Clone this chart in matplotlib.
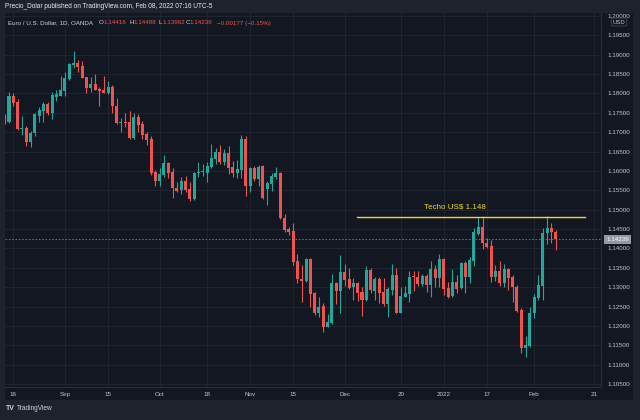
import matplotlib
matplotlib.use('Agg')
import matplotlib.pyplot as plt
import numpy as np
from matplotlib.patches import Rectangle

# EUR/USD diario (OANDA), índice 0 = 16 ago 2021
bar_index = list(range(-2, 127))
opens = [1.1738, 1.1727, 1.1794, 1.1778, 1.1707, 1.1711, 1.1674, 1.1697, 1.1741, 1.1754,
         1.1772, 1.1750, 1.1791, 1.1794, 1.1806, 1.1837, 1.1873, 1.1879, 1.1870, 1.1841,
         1.1813, 1.1824, 1.1812, 1.1809, 1.1800, 1.1815, 1.1768, 1.1723, 1.1727, 1.1725,
         1.1684, 1.1740, 1.1721, 1.1695, 1.1682, 1.1596, 1.1575, 1.1589, 1.1620, 1.1598,
         1.1557, 1.1551, 1.1574, 1.1553, 1.1527, 1.1595, 1.1597, 1.1595, 1.1609, 1.1630,
         1.1649, 1.1622, 1.1645, 1.1609, 1.1594, 1.1602, 1.1682, 1.1561, 1.1607, 1.1578,
         1.1613, 1.1553, 1.1566, 1.1585, 1.1595, 1.1479, 1.1450, 1.1445, 1.1368, 1.1321,
         1.1316, 1.1373, 1.1285, 1.1233, 1.1252, 1.1198, 1.1207, 1.1310, 1.1291, 1.1340,
         1.1321, 1.1300, 1.1312, 1.1287, 1.1267, 1.1345, 1.1290, 1.1321, 1.1289, 1.1256,
         1.1293, 1.1332, 1.1235, 1.1276, 1.1283, 1.1330, 1.1327, 1.1308, 1.1329, 1.1306,
         1.1347, 1.1323, 1.1372, 1.1297, 1.1278, 1.1314, 1.1297, 1.1363, 1.1326, 1.1368,
         1.1437, 1.1455, 1.1415, 1.1406, 1.1326, 1.1343, 1.1310, 1.1346, 1.1326, 1.1302,
         1.1242, 1.1144, 1.1149, 1.1233, 1.1272, 1.1303, 1.1439, 1.1452, 1.14416]
highs = [1.1746, 1.1803, 1.1800, 1.1785, 1.1741, 1.1716, 1.1704, 1.1750, 1.1765, 1.1778,
         1.1778, 1.1803, 1.1809, 1.1845, 1.1856, 1.1877, 1.1909, 1.1886, 1.1883, 1.1843,
         1.1841, 1.1850, 1.1817, 1.1845, 1.1832, 1.1821, 1.1789, 1.1736, 1.1748, 1.1754,
         1.1748, 1.1747, 1.1729, 1.1701, 1.1690, 1.1602, 1.1607, 1.1641, 1.1624, 1.1607,
         1.1572, 1.1585, 1.1587, 1.1572, 1.1598, 1.1624, 1.1618, 1.1624, 1.1669, 1.1658,
         1.1667, 1.1656, 1.1664, 1.1626, 1.1628, 1.1693, 1.1690, 1.1609, 1.1613, 1.1615,
         1.1615, 1.1574, 1.1595, 1.1609, 1.1597, 1.1488, 1.1456, 1.1465, 1.1386, 1.1357,
         1.1375, 1.1375, 1.1289, 1.1276, 1.1259, 1.1231, 1.1333, 1.1314, 1.1383, 1.1360,
         1.1349, 1.1323, 1.1314, 1.1300, 1.1355, 1.1349, 1.1326, 1.1327, 1.1324, 1.1302,
         1.1360, 1.1350, 1.1302, 1.1303, 1.1343, 1.1342, 1.1343, 1.1334, 1.1334, 1.1368,
         1.1357, 1.1386, 1.1375, 1.1314, 1.1346, 1.1332, 1.1366, 1.1368, 1.1379, 1.1452,
         1.1482, 1.1484, 1.1426, 1.1422, 1.1357, 1.1369, 1.1359, 1.1349, 1.1332, 1.1306,
         1.1246, 1.1174, 1.1248, 1.1283, 1.1332, 1.1452, 1.1485, 1.1465, 1.14488]
lows = [1.1722, 1.1724, 1.1767, 1.1705, 1.1693, 1.1664, 1.1662, 1.1691, 1.1725, 1.1727,
        1.1745, 1.1734, 1.1780, 1.1793, 1.1793, 1.1834, 1.1864, 1.1856, 1.1839, 1.1802,
        1.1804, 1.1809, 1.1768, 1.1800, 1.1798, 1.1750, 1.1721, 1.1701, 1.1714, 1.1681,
        1.1682, 1.1701, 1.1682, 1.1667, 1.1589, 1.1562, 1.1561, 1.1585, 1.1581, 1.1529,
        1.1546, 1.1540, 1.1546, 1.1522, 1.1525, 1.1583, 1.1587, 1.1572, 1.1607, 1.1617,
        1.1618, 1.1615, 1.1592, 1.1583, 1.1582, 1.1581, 1.1535, 1.1546, 1.1575, 1.1561,
        1.1527, 1.1512, 1.1549, 1.1578, 1.1476, 1.1443, 1.1435, 1.1357, 1.1310, 1.1263,
        1.1314, 1.1250, 1.1229, 1.1224, 1.1186, 1.1197, 1.1205, 1.1257, 1.1235, 1.1303,
        1.1295, 1.1267, 1.1265, 1.1226, 1.1265, 1.1285, 1.1267, 1.1260, 1.1252, 1.1223,
        1.1280, 1.1233, 1.1233, 1.1274, 1.1263, 1.1291, 1.1303, 1.1303, 1.1289, 1.1274,
        1.1300, 1.1300, 1.1280, 1.1272, 1.1274, 1.1286, 1.1295, 1.1286, 1.1312, 1.1356,
        1.1435, 1.1398, 1.1401, 1.1314, 1.1317, 1.1304, 1.1302, 1.1293, 1.1263, 1.1237,
        1.1131, 1.1121, 1.1147, 1.1220, 1.1267, 1.1267, 1.1412, 1.1413, 1.13962]
closes = [1.1727, 1.1794, 1.1774, 1.1707, 1.1711, 1.1674, 1.1698, 1.1746, 1.1757, 1.1772,
          1.1748, 1.1796, 1.1797, 1.1809, 1.1839, 1.1876, 1.1879, 1.1869, 1.1840, 1.1813,
          1.1823, 1.1809, 1.1807, 1.1800, 1.1815, 1.1767, 1.1723, 1.1727, 1.1723, 1.1684,
          1.1740, 1.1718, 1.1693, 1.1680, 1.1595, 1.1575, 1.1592, 1.1620, 1.1595, 1.1555,
          1.1549, 1.1574, 1.1551, 1.1527, 1.1595, 1.1598, 1.1600, 1.1613, 1.1632, 1.1649,
          1.1624, 1.1645, 1.1607, 1.1594, 1.1604, 1.1682, 1.1561, 1.1607, 1.1578, 1.1611,
          1.1529, 1.1568, 1.1587, 1.1595, 1.1479, 1.1448, 1.1443, 1.1366, 1.1321, 1.1317,
          1.1373, 1.1282, 1.1233, 1.1250, 1.1198, 1.1211, 1.1310, 1.1291, 1.1340, 1.1319,
          1.1299, 1.1312, 1.1286, 1.1267, 1.1345, 1.1293, 1.1321, 1.1286, 1.1256, 1.1296,
          1.1332, 1.1235, 1.1278, 1.1285, 1.1327, 1.1326, 1.1308, 1.1329, 1.1306, 1.1347,
          1.1323, 1.1372, 1.1295, 1.1274, 1.1314, 1.1295, 1.1363, 1.1326, 1.1370, 1.1442,
          1.1455, 1.1413, 1.1405, 1.1326, 1.1343, 1.1310, 1.1346, 1.1323, 1.1300, 1.1240,
          1.1144, 1.1151, 1.1235, 1.1276, 1.1306, 1.1441, 1.1452, 1.1442, 1.14239]

date_ticks = [0, 12, 22, 34, 45, 55, 65, 77, 90, 100, 110, 121, 135]
date_labels = ['16', 'Sep', '15', 'Oct', '18', 'Nov', '15', 'Dec', '20', '2022', '17', 'Feb', '21']
price_ticks = [1.105, 1.11, 1.115, 1.12, 1.125, 1.13, 1.135, 1.14, 1.145,
               1.15, 1.155, 1.16, 1.165, 1.17, 1.175, 1.18, 1.185, 1.19, 1.195, 1.20]

techo = 1.148
techo_start, techo_end = 79.8, 132.8
last_price = closes[-1]

BG = '#131722'
FRAME = '#1e222d'
GREEN = '#26a69a'
RED = '#ef5350'
TXT = '#c3c6ce'
GRID = '#1f2431'
BORDER = '#2a2e39'
YELLOW = '#ecd82c'
FS = 4.5

plt.rcParams['font.family'] = ['Liberation Sans', 'DejaVu Sans']

W, H = 640, 420
fig = plt.figure(figsize=(6.4, 4.2), dpi=100)
fig.patch.set_facecolor(FRAME)

def px(x, y):
    return x / W, 1 - y / H

# fondo del gráfico (panel + ejes de precio y tiempo)
fig.patches.append(Rectangle(px(5, 400), 628 / W, 387 / H, transform=fig.transFigure,
                             facecolor=BG, edgecolor='none', zorder=-5))

ax = fig.add_axes([5 / W, (H - 387) / H, 596 / W, 374 / H])
ax.set_facecolor(BG)
ax.set_xlim(-1.93, 136.52)
ax.set_ylim(1.10430, 1.20070)

idx = np.array(bar_index)
o = np.array(opens)
h = np.array(highs)
l = np.array(lows)
c = np.array(closes)
colors = np.where(c >= o, GREEN, RED)

ax.vlines(idx, l, h, colors=colors, linewidth=0.8, zorder=3)
body_low = np.minimum(o, c)
body_h = np.maximum(np.abs(c - o), 0.00012)
ax.bar(idx, body_h, bottom=body_low, width=0.7, color=colors, linewidth=0, zorder=4)

# línea del último precio
ax.axhline(last_price, color='#787b86', linewidth=0.6, linestyle=(0, (2, 2)), zorder=2)

# techo
ax.plot([techo_start, techo_end], [techo, techo], color=YELLOW, linewidth=1.0, zorder=5)
ax.text(102.6, 1.1507, 'Techo US$ 1.148', color=YELLOW, fontsize=5.8,
        ha='center', va='center', zorder=6)

ax.set_xticks(date_ticks)
ax.set_xticklabels(date_labels)
ax.set_yticks(price_ticks)
ax.set_yticklabels([f'{p:.5f}' for p in price_ticks])
ax.yaxis.tick_right()
ax.tick_params(axis='y', length=0, pad=4.3, labelsize=FS, labelcolor=TXT)
ax.tick_params(axis='x', length=0, pad=3.3, labelsize=FS, labelcolor=TXT)
ax.grid(True, color=GRID, linewidth=0.8, zorder=0)
ax.set_axisbelow(True)
for s in ax.spines.values():
    s.set_visible(False)
ax.spines['right'].set_visible(True)
ax.spines['right'].set_color(BORDER)
ax.spines['bottom'].set_visible(True)
ax.spines['bottom'].set_color(BORDER)

# etiqueta del último precio
ax.annotate(f'{last_price:.5f}', xy=(1.0, last_price), xycoords=('axes fraction', 'data'),
            xytext=(3.6, 0), textcoords='offset points', ha='left', va='center',
            fontsize=FS, color='white', annotation_clip=False,
            bbox=dict(boxstyle='square,pad=0.3', facecolor='#9598a1', edgecolor='none'))

# franja superior que recorta la etiqueta 1.20000
fig.patches.append(Rectangle(px(0, 13), 1, 13 / H, transform=fig.transFigure,
                             facecolor=FRAME, edgecolor='none', zorder=20))

# etiqueta USD
fig.text(*px(619, 22), 'USD', fontsize=4.2, color=TXT, ha='center', va='center', zorder=21,
         bbox=dict(boxstyle='round,pad=0.25', facecolor=BG, edgecolor='#434651', linewidth=0.6))

# cabecera
fig.text(*px(5, 7), 'Precio_Dolar published on TradingView.com, Feb 08, 2022 07:16 UTC-5',
         fontsize=4.7, color='#e8eaf0', va='center', zorder=21)
hy = 23
fig.text(*px(8, hy), 'Euro / U.S. Dollar, 1D, OANDA', fontsize=FS, color='#d1d4dc', va='center')
parts = [(99, 'O', '#d1d4dc'), (103, '1.14416', RED), (129, 'H', '#d1d4dc'), (133.5, '1.14488', RED),
         (158.5, 'L', '#d1d4dc'), (162, '1.13962', RED), (186, 'C', '#d1d4dc'), (189.5, '1.14239', RED),
         (217, '\u22120.00177 (\u22120.15%)', RED)]
for x, t, col in parts:
    fig.text(*px(x, hy), t, fontsize=FS, color=col, va='center')

# logo
fig.text(*px(6, 409), 'TV', fontsize=5, color='#d1d4dc', va='center', fontweight='bold')
fig.text(*px(17, 409), 'TradingView', fontsize=4.7, color='#d1d4dc', va='center')

fig.savefig('out.png', dpi=100, facecolor=fig.get_facecolor())
